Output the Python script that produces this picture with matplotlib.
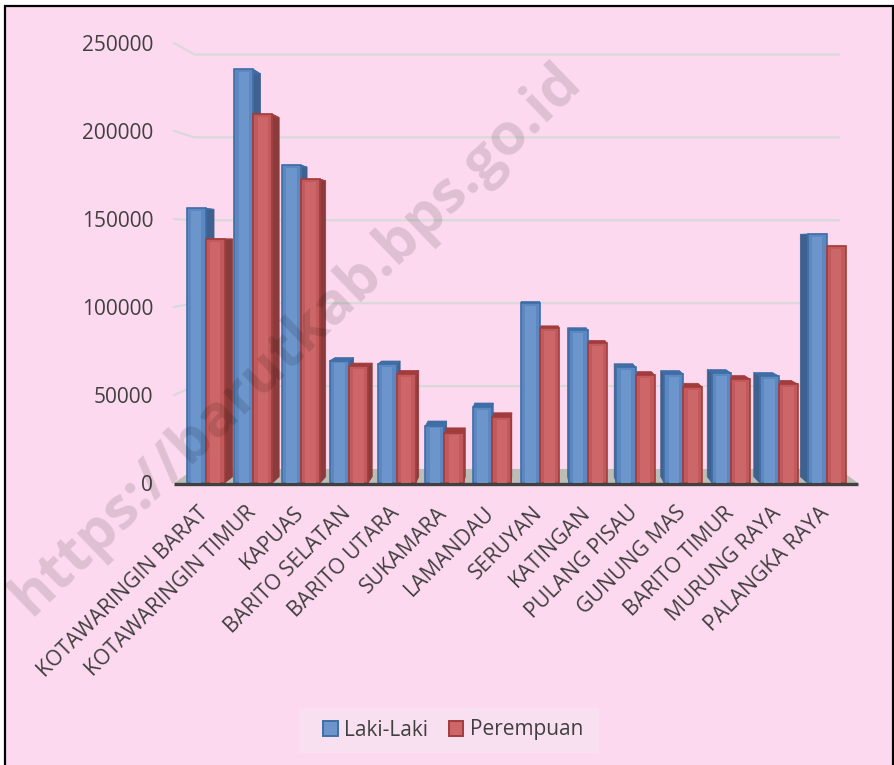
import matplotlib
matplotlib.use('Agg')
import matplotlib.pyplot as plt
from matplotlib.patches import Patch, Rectangle
from matplotlib.transforms import ScaledTranslation

plt.rcParams['font.family'] = ['Open Sans', 'DejaVu Sans']

# Data
kabupaten = ['KOTAWARINGIN BARAT', 'KOTAWARINGIN TIMUR', 'KAPUAS', 'BARITO SELATAN',
             'BARITO UTARA', 'SUKAMARA', 'LAMANDAU', 'SERUYAN', 'KATINGAN',
             'PULANG PISAU', 'GUNUNG MAS', 'BARITO TIMUR', 'MURUNG RAYA', 'PALANGKA RAYA']
laki = [156000, 235000, 180600, 69500, 67500, 32500, 43000,
        102200, 86900, 65900, 61900, 62500, 60800, 141400]
perempuan = [138600, 209500, 172600, 66300, 62000, 28500, 37300,
             88000, 79500, 61300, 54500, 59000, 56200, 134500]
y_ticks = [0, 50000, 100000, 150000, 200000, 250000]

W, H = 894, 765
BG = '#FDD9EF'
TEXT = '#404040'

# Fake 3D: everything recedes towards one vanishing point (data coords)
VP_X = 6.79
VP_Y = 137500
WALL_DEPTH = 0.058
BAR_DEPTH = 0.026
BAR_W = 0.4


def back(x, v, t):
    return x + (VP_X - x) * t, v + (VP_Y - v) * t


def draw_bar(ax, x, v, front, bevel, edge, side, z):
    xl, xr = x - BAR_W / 2, x + BAR_W / 2
    # side and top faces
    if xr < VP_X:
        xs = xr
    elif xl > VP_X:
        xs = xl
    else:
        xs = None
    if xs is not None:
        bx0, by0 = back(xs, 0, BAR_DEPTH)
        bx1, by1 = back(xs, v, BAR_DEPTH)
        ax.fill([xs, xs, bx1, bx0], [0, v, by1, by0], color=side, lw=0.5, zorder=z)
    blx, bly = back(xl, v, BAR_DEPTH)
    brx, bry = back(xr, v, BAR_DEPTH)
    ax.fill([xl, xr, brx, blx], [v, v, bry, bly], color=edge, lw=0.5, zorder=z)
    # front face with a bevel on the sides
    ax.bar(x, v, BAR_W, color=bevel, edgecolor=edge, linewidth=1.2, zorder=5)
    ax.bar(x, v - 1500, BAR_W * 0.55, color=front, linewidth=0, zorder=5.1)


fig = plt.figure(figsize=(W / 100, H / 100), dpi=100, facecolor='white')

# page background with the black frame
fig.add_artist(Rectangle((4.5 / W, -0.02), 888 / W, 1.02 - 6.5 / H, transform=fig.transFigure,
                         facecolor=BG, edgecolor='black', linewidth=1.6, zorder=-5))

ax = fig.add_axes([174 / W, 1 - 483 / H, 684 / W, 440 / H])
ax.patch.set_visible(False)
ax.set_xlim((174 - 540) / 47.77 + 7, (858 - 540) / 47.77 + 7)
ax.set_ylim(0, 250000)
x0, x1 = ax.get_xlim()

# back wall lines
for v in y_ticks[1:]:
    lx, ly = back(x0, v, WALL_DEPTH)
    rx, ry = back(x1, v, WALL_DEPTH)
    ax.plot([x0, lx, rx], [v, ly, ry], color='#D9D9D9', lw=1.6, zorder=1, clip_on=False,
            solid_joinstyle='round')

# floor
flx, fly = back(x0, 0, WALL_DEPTH)
frx, fry = back(x1, 0, WALL_DEPTH)
ax.fill([x0, x1, frx, flx], [0, 0, fry, fly], color='#BDBDB8', lw=0, zorder=1.5)
ax.plot([x0, x1], [-800, -800], color='#404040', lw=2.4, zorder=2, clip_on=False,
        solid_capstyle='butt')

for i in range(len(kabupaten)):
    draw_bar(ax, i - BAR_W / 2, laki[i], '#6C95CC', '#5C87C0', '#3F6EA6', '#3E6190', 3)
    draw_bar(ax, i + BAR_W / 2, perempuan[i], '#CD6668', '#C25A5C', '#A23C3C', '#8A3C3C', 4)

for s in ax.spines.values():
    s.set_visible(False)
ax.set_yticks(y_ticks)
ax.set_xticks(range(len(kabupaten)))
ax.set_xticklabels(kabupaten, rotation=45, ha='right', va='top', rotation_mode='anchor')
ax.tick_params(axis='y', length=0, pad=15, labelsize=15, labelcolor=TEXT)
ax.tick_params(axis='x', length=0, pad=14, labelsize=15.3, labelcolor=TEXT)
for lab in ax.get_xticklabels():
    lab.set_transform(lab.get_transform() + ScaledTranslation(-0.08, 0, fig.dpi_scale_trans))

# legend box
fig.add_artist(Rectangle((299 / W, 1 - 753 / H), 300 / W, 45 / H, transform=fig.transFigure,
                         facecolor='#F9E0F0', edgecolor='none', zorder=1))
handles = [Patch(facecolor='#6C95CC', edgecolor='#3F6EA6', linewidth=1.4, label='Laki-Laki'),
           Patch(facecolor='#CD6668', edgecolor='#A23C3C', linewidth=1.4, label='Perempuan')]
leg = fig.legend(handles=handles, loc='center', bbox_to_anchor=(453 / W, 1 - 730 / H), ncol=2,
                 frameon=False, fontsize=15, labelcolor=TEXT, handlelength=0.7, handleheight=0.7,
                 handletextpad=0.3, columnspacing=1.0)
leg.set_zorder(2)

# watermark over everything
fig.text(296 / W, 1 - 340 / H, 'https://barutkab.bps.go.id', fontsize=42, fontweight='bold',
         rotation=44, rotation_mode='anchor', ha='center', va='center', color='black', alpha=0.12,
         zorder=10)

fig.savefig('out.png', dpi=100)
